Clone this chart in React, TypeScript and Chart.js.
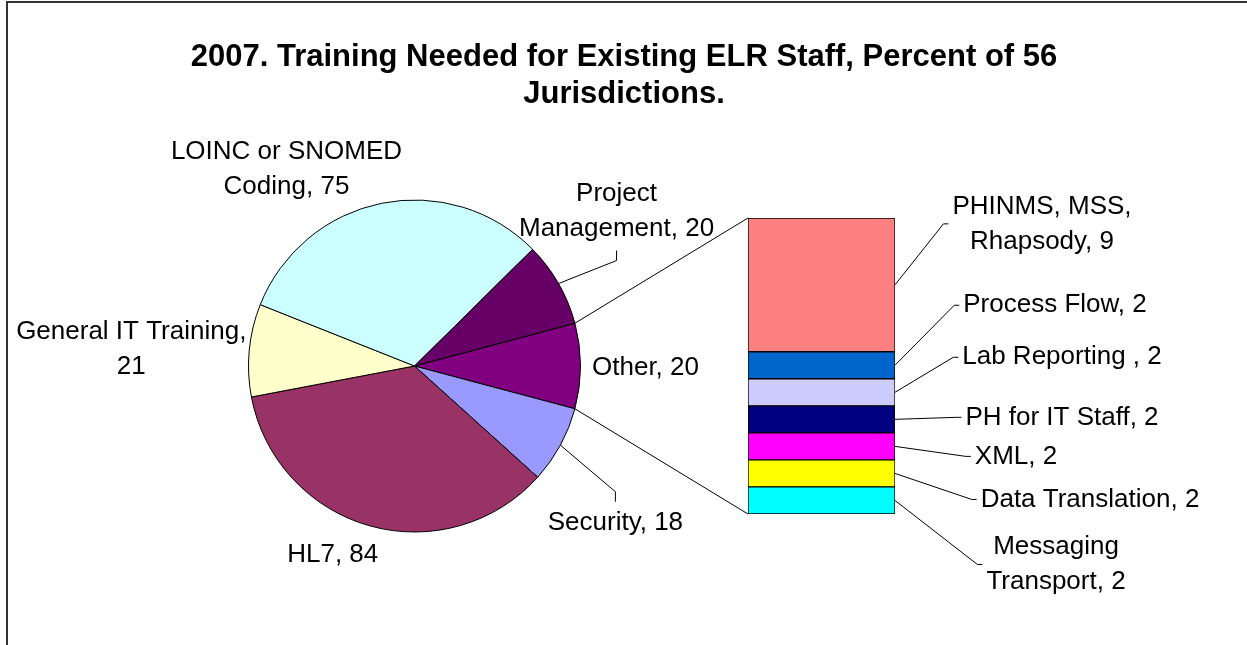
import React, { useEffect, useRef } from "react";
import { Chart, registerables } from "chart.js";

Chart.register(...registerables);

// ---------- data ----------
const titleLines = ["2007. Training Needed for Existing ELR Staff, Percent of 56", "Jurisdictions."];

const otherLabel = "Other";
const pieCategories = ["Security", "HL7", "General IT Training", "LOINC or SNOMED Coding", "Project Management"];
const pieValues = [17.9, 83.9, 21.4, 75.0, 19.6];

const barCategories = [
  "PHINMS, MSS, Rhapsody",
  "Process Flow",
  "Lab Reporting ",
  "PH for IT Staff",
  "XML",
  "Data Translation",
  "Messaging Transport",
];
const barValues = [8.9, 1.8, 1.8, 1.8, 1.8, 1.8, 1.8];

// ---------- style ----------
const otherColor = "#800080";
const pieColors = ["#9999FF", "#993366", "#FFFFCC", "#CCFFFF", "#660066"];
const barColors = ["#FF8080", "#0066CC", "#CCCCFF", "#000080", "#FF00FF", "#FFFF00", "#00FFFF"];

const W = 1247;
const H = 645;
const FONT = "'Liberation Sans', Arial, Helvetica, sans-serif";
const LABEL_SIZE = 26;
const LINE_H = 35;
const WRAP = 238;
const PADX = 4;
const PADY = 4;

// label placement relative to the slice / segment anchor (layout only)
type Lay = { dx: number; dy: number; leader: "" | "top" | "bottom" | "left" };
const pieLabelLayout: Lay[] = [
  { dx: 65, dy: 2, leader: "" }, // Other
  { dx: 55, dy: 78, leader: "top" }, // Security
  { dx: -37, dy: 29, leader: "" }, // HL7
  { dx: -118, dy: -1, leader: "" }, // General IT
  { dx: -95, dy: -34, leader: "" }, // LOINC
  { dx: 58, dy: -72, leader: "bottom" }, // Project
];
const barLabelLayout: Lay[] = [
  { dx: 147, dy: -61, leader: "left" },
  { dx: 160, dy: -60, leader: "left" },
  { dx: 167, dy: -35, leader: "left" },
  { dx: 167, dy: -2, leader: "left" },
  { dx: 121, dy: 10, leader: "left" },
  { dx: 195, dy: 26, leader: "left" },
  { dx: 161, dy: 64, leader: "left" },
];

function wrapText(ctx: CanvasRenderingContext2D, text: string, maxW: number): string[] {
  const words = text.split(" ");
  const lines: string[] = [];
  let cur = "";
  for (const w of words) {
    const t = cur ? cur + " " + w : w;
    if (cur && ctx.measureText(t).width > maxW) {
      lines.push(cur);
      cur = w;
    } else cur = t;
  }
  if (cur) lines.push(cur);
  return lines;
}

function drawLabel(ctx: CanvasRenderingContext2D, text: string, ax: number, ay: number, lay: Lay) {
  ctx.font = `${LABEL_SIZE}px ${FONT}`;
  ctx.fillStyle = "#000";
  ctx.textAlign = "center";
  ctx.textBaseline = "middle";
  const lines = wrapText(ctx, text, WRAP);
  const cx = ax + lay.dx;
  const cy = ay + lay.dy;
  lines.forEach((l, k) => ctx.fillText(l, cx, cy + (k - (lines.length - 1) / 2) * LINE_H));
  if (lay.leader) {
    const w = Math.max(...lines.map((l) => ctx.measureText(l).width)) + 2 * PADX;
    const h = lines.length * LINE_H + 2 * PADY;
    let px = cx, py = cy, ex = cx, ey = cy;
    if (lay.leader === "bottom") { py = cy + h / 2; ey = py + 10; }
    else if (lay.leader === "top") { py = cy - h / 2; ey = py - 10; }
    else { px = cx - w / 2; ex = px - 5; }
    ctx.beginPath();
    ctx.moveTo(ax, ay);
    ctx.lineTo(ex, ey);
    ctx.lineTo(px, py);
    ctx.lineWidth = 1;
    ctx.strokeStyle = "#000";
    ctx.stroke();
  }
}

export default function App() {
  const pieRef = useRef<HTMLCanvasElement>(null);
  const barRef = useRef<HTMLCanvasElement>(null);

  useEffect(() => {
    document.body.style.margin = "0";
    const otherValue = barValues.reduce((a, b) => a + b, 0);
    const allPieValues = [otherValue, ...pieValues];
    const allPieLabels = [otherLabel, ...pieCategories];
    const total = allPieValues.reduce((a, b) => a + b, 0);
    const rotation = 90 - ((otherValue / total) * 360) / 2;

    const piePlugin = {
      id: "pieDecor",
      afterDraw(chart: any) {
        const ctx: CanvasRenderingContext2D = chart.ctx;
        ctx.save();
        ctx.font = `bold 31px ${FONT}`;
        ctx.fillStyle = "#000";
        ctx.textAlign = "center";
        ctx.textBaseline = "middle";
        titleLines.forEach((l, i) => ctx.fillText(l, 624, 57 + i * 37));
        const meta = chart.getDatasetMeta(0);
        meta.data.forEach((arc: any, i: number) => {
          const p = arc.getProps(["x", "y", "startAngle", "endAngle", "outerRadius"], true);
          const mid = (p.startAngle + p.endAngle) / 2;
          const ax = p.x + p.outerRadius * Math.cos(mid);
          const ay = p.y + p.outerRadius * Math.sin(mid);
          drawLabel(ctx, `${allPieLabels[i]}, ${Math.round(allPieValues[i])}`, ax, ay, pieLabelLayout[i]);
        });
        ctx.restore();
      },
    };

    const pie = new Chart(pieRef.current!, {
      type: "pie",
      data: {
        labels: allPieLabels,
        datasets: [
          {
            data: allPieValues,
            backgroundColor: [otherColor, ...pieColors],
            borderColor: "#000",
            borderWidth: 1,
          },
        ],
      },
      options: {
        responsive: false,
        animation: false,
        rotation,
        layout: { padding: { left: 248, top: 199.5, right: W - 248 - 333, bottom: H - 199.5 - 333 } },
        plugins: { legend: { display: false }, tooltip: { enabled: false }, title: { display: false } },
      },
      plugins: [piePlugin],
    } as any);

    const barPlugin = {
      id: "barDecor",
      afterDraw(chart: any) {
        const ctx: CanvasRenderingContext2D = chart.ctx;
        ctx.save();
        const n = barCategories.length;
        // datasets are reversed: index 0 = bottom segment
        const topEl = chart.getDatasetMeta(n - 1).data[0].getProps(["x", "y", "base", "width"], true);
        const botEl = chart.getDatasetMeta(0).data[0].getProps(["x", "y", "base", "width"], true);
        const arc = pie.getDatasetMeta(0).data[0].getProps(["x", "y", "startAngle", "endAngle", "outerRadius"], true) as any;
        const left = topEl.x - topEl.width / 2;
        ctx.beginPath();
        ctx.moveTo(arc.x + arc.outerRadius * Math.cos(arc.startAngle), arc.y + arc.outerRadius * Math.sin(arc.startAngle));
        ctx.lineTo(left, topEl.y);
        ctx.moveTo(arc.x + arc.outerRadius * Math.cos(arc.endAngle), arc.y + arc.outerRadius * Math.sin(arc.endAngle));
        ctx.lineTo(left, botEl.base);
        ctx.lineWidth = 1;
        ctx.strokeStyle = "#000";
        ctx.stroke();
        for (let i = 0; i < n; i++) {
          const el = chart.getDatasetMeta(n - 1 - i).data[0].getProps(["x", "y", "base", "width"], true);
          const ax = el.x + el.width / 2;
          const ay = (el.y + el.base) / 2;
          drawLabel(ctx, `${barCategories[i]}, ${Math.round(barValues[i])}`, ax, ay, barLabelLayout[i]);
        }
        ctx.restore();
      },
    };

    const bar = new Chart(barRef.current!, {
      type: "bar",
      data: {
        labels: [otherLabel],
        datasets: barCategories
          .map((c, i) => ({
            label: c,
            data: [barValues[i]],
            backgroundColor: barColors[i],
            borderColor: "#000",
            borderWidth: 1,
            borderSkipped: false,
            barPercentage: 1,
            categoryPercentage: 1,
          }))
          .reverse(),
      },
      options: {
        responsive: false,
        animation: false,
        layout: { padding: { left: 748, right: W - 895, top: 218, bottom: H - 514 } },
        scales: {
          x: { stacked: true, display: false },
          y: { stacked: true, display: false, min: 0, max: otherValue },
        },
        plugins: { legend: { display: false }, tooltip: { enabled: false } },
      },
      plugins: [barPlugin],
    } as any);

    return () => {
      bar.destroy();
      pie.destroy();
    };
  }, []);

  return (
    <div style={{ position: "fixed", left: 0, top: 0, width: W, height: H, overflow: "hidden", background: "#fff" }}>
      <div
        style={{
          position: "absolute",
          left: 6,
          top: 1,
          width: W + 40,
          height: H + 40,
          borderLeft: "2px solid #333",
          borderTop: "2px solid #333",
        }}
      />
      <canvas ref={pieRef} width={W} height={H} style={{ position: "absolute", left: 0, top: 0 }} />
      <canvas ref={barRef} width={W} height={H} style={{ position: "absolute", left: 0, top: 0 }} />
    </div>
  );
}
